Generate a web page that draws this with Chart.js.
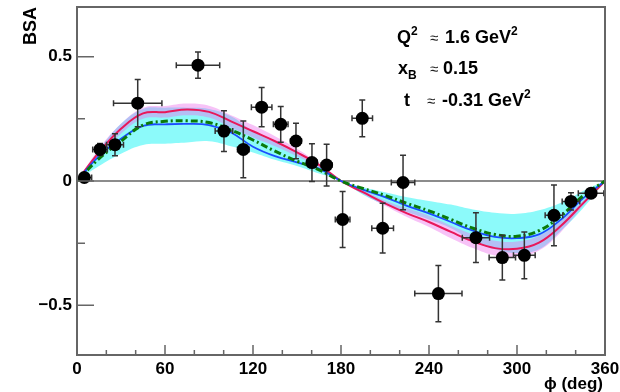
<!DOCTYPE html>
<html>
<head>
<meta charset="utf-8">
<script src="https://cdn.jsdelivr.net/npm/chart.js@4.4.0/dist/chart.umd.min.js"></script>
<style>
  html, body { margin: 0; padding: 0; background: #fff; }
  #wrap { width: 620px; height: 392px; }
</style>
</head>
<body>
<div id="wrap"><canvas id="bsa" width="620" height="392"></canvas></div>
<script>
// measured points
const phi = [5.0, 15.7, 25.9, 41.4, 82.5, 100.2, 113.4, 125.9, 138.9, 149.3, 160.2, 170.2, 181.1, 194.5, 208.4, 222.3, 246.4, 272.0, 290.0, 305.0, 325.2, 336.8, 350.5]
const bsa = [0.014, 0.127, 0.146, 0.313, 0.466, 0.201, 0.127, 0.297, 0.228, 0.161, 0.074, 0.064, -0.155, 0.252, -0.19, -0.006, -0.453, -0.228, -0.308, -0.299, -0.138, -0.082, -0.049]
const phiErr = [5, 5, 5.8, 16.5, 14.8, 6, 4, 7, 5, 3.7, 3.6, 3.6, 5, 7, 7.4, 8, 16.1, 9.3, 9, 7.4, 6, 6, 8.7]
const bsaErr = [0.015, 0.024, 0.044, 0.095, 0.053, 0.082, 0.114, 0.079, 0.072, 0.071, 0.076, 0.084, 0.113, 0.074, 0.1, 0.11, 0.113, 0.1, 0.09, 0.094, 0.122, 0.035, 0.015]

// model curves, sampled every 15 deg
const phiGrid = [0, 15, 30, 45, 60, 75, 90, 105, 120, 135, 150, 165, 180, 195, 210, 225, 240, 255, 270, 285, 300, 315, 330, 345, 360]
const redCurve = [0, 0.115, 0.21, 0.272, 0.277, 0.288, 0.278, 0.24, 0.2, 0.16, 0.115, 0.065, 0, -0.045, -0.09, -0.13, -0.165, -0.205, -0.243, -0.27, -0.273, -0.248, -0.18, -0.09, 0]
const redHigh = [0, 0.13, 0.23, 0.295, 0.302, 0.312, 0.303, 0.265, 0.225, 0.18, 0.13, 0.07, 0, -0.038, -0.078, -0.11, -0.14, -0.18, -0.215, -0.24, -0.243, -0.22, -0.16, -0.08, 0]
const redLow = [0, 0.1, 0.19, 0.25, 0.255, 0.265, 0.255, 0.215, 0.175, 0.14, 0.1, 0.055, 0, -0.052, -0.1, -0.145, -0.185, -0.23, -0.27, -0.3, -0.305, -0.28, -0.205, -0.1, 0]
const blueCurve = [0, 0.1, 0.17, 0.222, 0.228, 0.23, 0.225, 0.195, 0.138, 0.1, 0.075, 0.05, 0, -0.035, -0.065, -0.1, -0.13, -0.165, -0.2, -0.225, -0.23, -0.215, -0.155, -0.07, 0]
const blueHigh = [0, 0.125, 0.23, 0.29, 0.295, 0.295, 0.29, 0.26, 0.2, 0.155, 0.11, 0.06, 0, -0.025, -0.045, -0.065, -0.08, -0.095, -0.115, -0.128, -0.132, -0.118, -0.088, -0.04, 0]
const blueLow = [0, 0.06, 0.11, 0.145, 0.15, 0.155, 0.16, 0.14, 0.115, 0.085, 0.06, 0.03, 0, -0.055, -0.095, -0.125, -0.155, -0.19, -0.24, -0.275, -0.29, -0.275, -0.2, -0.11, 0]
const greenCurve = [0, 0.09, 0.16, 0.225, 0.24, 0.242, 0.235, 0.205, 0.165, 0.12, 0.08, 0.045, 0, -0.03, -0.058, -0.09, -0.12, -0.155, -0.19, -0.215, -0.222, -0.2, -0.14, -0.06, 0]

// axis ticks
const xMajorTicks = [0, 60, 120, 180, 240, 300, 360]
const xMinorTicks = [20, 40, 80, 100, 140, 160, 200, 220, 260, 280, 320, 340]
const yMajorTicks = [-0.5, 0, 0.5]
const yMajorLabels = ['\u22120.5', '0', '0.5']
const yMinorTicks = [-0.25, 0.25]

const toXY = (ys) => phiGrid.map((x, i) => ({ x: x, y: ys[i] }))

const boldFont = (s) => 'bold ' + s + 'px "Liberation Sans", Arial, sans-serif'

// frame, inside tick marks, zero line, error bars, labels
const rootStyle = {
  id: 'rootStyle',
  beforeDatasetsDraw (chart) {
    const { ctx, chartArea: a, scales: { y } } = chart
    const y0 = y.getPixelForValue(0)
    ctx.save()
    ctx.strokeStyle = '#666'
    ctx.lineWidth = 1.5
    ctx.beginPath()
    ctx.moveTo(a.left, y0)
    ctx.lineTo(a.right, y0)
    ctx.stroke()
    ctx.restore()
  },
  beforeDatasetDraw (chart, args) {
    if (args.index !== 0) return
    const { ctx, scales: { x, y } } = chart
    const cap = 3
    ctx.save()
    ctx.strokeStyle = '#333'
    ctx.lineWidth = 1.5
    ctx.beginPath()
    for (let i = 0; i < phi.length; i++) {
      const px = x.getPixelForValue(phi[i])
      const py = y.getPixelForValue(bsa[i])
      const x1 = x.getPixelForValue(phi[i] - phiErr[i])
      const x2 = x.getPixelForValue(phi[i] + phiErr[i])
      const y1 = y.getPixelForValue(bsa[i] + bsaErr[i])
      const y2 = y.getPixelForValue(bsa[i] - bsaErr[i])
      ctx.moveTo(x1, py); ctx.lineTo(x2, py)
      ctx.moveTo(x1, py - cap); ctx.lineTo(x1, py + cap)
      ctx.moveTo(x2, py - cap); ctx.lineTo(x2, py + cap)
      ctx.moveTo(px, y1); ctx.lineTo(px, y2)
      ctx.moveTo(px - cap, y1); ctx.lineTo(px + cap, y1)
      ctx.moveTo(px - cap, y2); ctx.lineTo(px + cap, y2)
    }
    ctx.stroke()
    ctx.restore()
  },
  afterDraw (chart) {
    const { ctx, chartArea: a, scales: { x, y } } = chart
    ctx.save()
    ctx.strokeStyle = '#666'
    ctx.lineWidth = 2
    ctx.strokeRect(a.left, a.top, a.right - a.left, a.bottom - a.top)

    ctx.lineWidth = 1.5
    ctx.beginPath()
    xMajorTicks.forEach(v => { const p = x.getPixelForValue(v); ctx.moveTo(p, a.bottom); ctx.lineTo(p, a.bottom - 10) })
    xMinorTicks.forEach(v => { const p = x.getPixelForValue(v); ctx.moveTo(p, a.bottom); ctx.lineTo(p, a.bottom - 5) })
    yMajorTicks.forEach(v => { const p = y.getPixelForValue(v); ctx.moveTo(a.left, p); ctx.lineTo(a.left + 17, p) })
    yMinorTicks.forEach(v => { const p = y.getPixelForValue(v); ctx.moveTo(a.left, p); ctx.lineTo(a.left + 8, p) })
    ctx.stroke()

    // axis titles
    ctx.fillStyle = '#000'
    ctx.font = boldFont(18)
    ctx.save()
    ctx.translate(31, a.top)
    ctx.rotate(-Math.PI / 2)
    ctx.textAlign = 'right'
    ctx.textBaseline = 'middle'
    ctx.fillText('BSA', 0, 0)
    ctx.restore()

    ctx.font = boldFont(17)
    ctx.textAlign = 'right'
    ctx.textBaseline = 'alphabetic'
    ctx.fillText('\u03D5 (deg)', 603, 389)

    // kinematics box
    const runs = (x0, base, parts) => {
      let cx = x0
      ctx.textAlign = 'left'
      parts.forEach(p => {
        if (p.at !== undefined) cx = p.at
        ctx.font = p.f
        ctx.fillStyle = p.c || '#000'
        ctx.fillText(p.t, cx, base + (p.dy || 0))
        cx += ctx.measureText(p.t).width
      })
    }
    const approx = { t: '\u2248', f: '15px "Liberation Sans", Arial, sans-serif', c: '#222' }
    runs(397, 43, [
      { t: 'Q', f: boldFont(18) }, { t: '2', f: boldFont(12), dy: -8 },
      Object.assign({ at: 430 }, approx),
      { t: '1.6 GeV', f: boldFont(18), at: 445 }, { t: '2', f: boldFont(12), dy: -8 }
    ])
    runs(398, 74, [
      { t: 'x', f: boldFont(18) }, { t: 'B', f: boldFont(12), dy: 5 },
      Object.assign({ at: 430 }, approx),
      { t: '0.15', f: boldFont(18), at: 443 }
    ])
    runs(404, 106, [
      { t: 't', f: boldFont(18) },
      Object.assign({ at: 427 }, approx),
      { t: '-0.31 GeV', f: boldFont(18), at: 442 }, { t: '2', f: boldFont(12), dy: -8 }
    ])
    ctx.restore()
  }
}

const curve = (ys, color, width, dash, order) => ({
  type: 'line',
  data: toXY(ys),
  borderColor: color,
  borderWidth: width,
  borderDash: dash,
  pointRadius: 0,
  showLine: true,
  tension: 0.4,
  fill: false,
  order: order
})

const bandEdge = (ys, fillColor, order) => ({
  type: 'line',
  data: toXY(ys),
  borderWidth: 0,
  borderColor: 'rgba(0,0,0,0)',
  backgroundColor: fillColor,
  pointRadius: 0,
  showLine: true,
  tension: 0.4,
  fill: fillColor ? '+1' : false,
  order: order
})

const tickFont = { family: '"Liberation Sans", Arial, sans-serif', size: 17, weight: 'bold' }

new Chart(document.getElementById('bsa'), {
  type: 'scatter',
  data: {
    datasets: [
      {
        data: phi.map((v, i) => ({ x: v, y: bsa[i] })),
        backgroundColor: '#000',
        borderColor: '#000',
        pointRadius: 6.5,
        pointBorderWidth: 0,
        order: 0
      },
      curve(greenCurve, '#0a7a0a', 3, [7, 3, 2, 3], 1),
      curve(blueCurve, '#1a4cff', 1.8, [], 2),
      curve(redCurve, '#e8185a', 2, [], 3),
      bandEdge(redHigh, 'rgba(235, 110, 235, 0.42)', 4),
      bandEdge(redLow, null, 4),
      bandEdge(blueHigh, 'rgb(140, 250, 250)', 5),
      bandEdge(blueLow, null, 5)
    ]
  },
  options: {
    responsive: false,
    animation: false,
    devicePixelRatio: 1,
    layout: { padding: { top: 7, right: 15, left: 0, bottom: 0 } },
    plugins: { legend: { display: false }, tooltip: { enabled: false } },
    scales: {
      x: {
        type: 'linear',
        min: 0,
        max: 360,
        grid: { display: false, drawTicks: false },
        border: { display: false },
        afterBuildTicks: (scale) => { scale.ticks = xMajorTicks.concat(xMinorTicks).sort((a, b) => a - b).map(v => ({ value: v })) },
        afterFit: (scale) => {
          scale.height = 37
          scale.paddingLeft = 0
          scale.paddingRight = 0
        },
        ticks: {
          autoSkip: false,
          maxRotation: 0,
          padding: 4,
          color: '#000',
          font: tickFont,
          callback: (value) => xMajorTicks.includes(value) ? String(value) : ''
        }
      },
      y: {
        type: 'linear',
        min: -0.7,
        max: 0.7,
        grid: { display: false, drawTicks: false },
        border: { display: false },
        afterBuildTicks: (scale) => { scale.ticks = yMajorTicks.concat(yMinorTicks).sort((a, b) => a - b).map(v => ({ value: v })) },
        afterFit: (scale) => {
          scale.width = 77
          scale.paddingTop = 0
          scale.paddingBottom = 0
        },
        ticks: {
          autoSkip: false,
          padding: 5,
          color: '#000',
          font: tickFont,
          callback: (value) => {
            const k = yMajorTicks.indexOf(value)
            return k >= 0 ? yMajorLabels[k] : ''
          }
        }
      }
    }
  },
  plugins: [rootStyle]
})
</script>
</body>
</html>
